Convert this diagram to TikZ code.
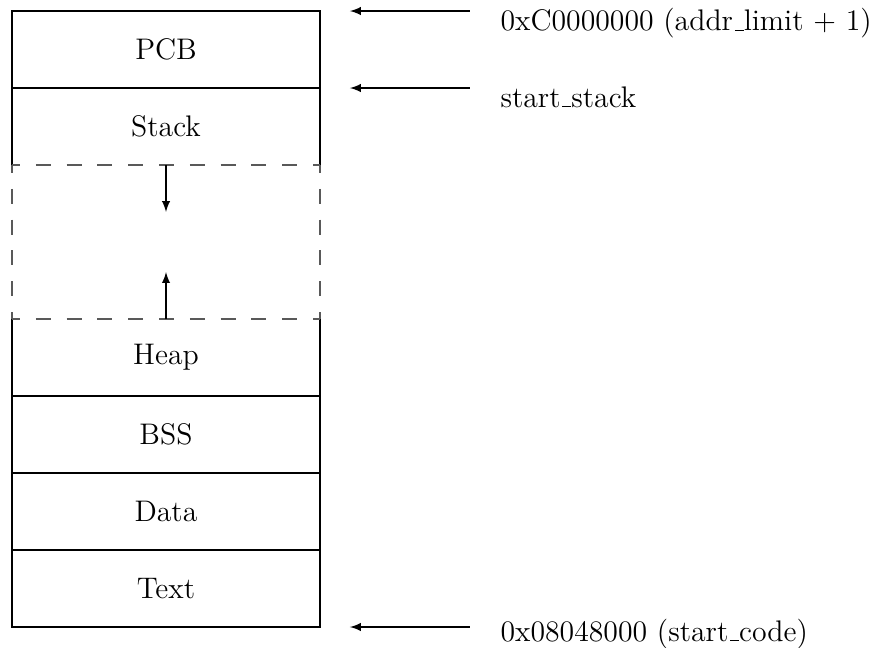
\documentclass[tikz,border=0pt]{standalone}
\usetikzlibrary{arrows,calc}
% low rule underscore, as in classic LaTeX text fonts
\newcommand{\usc}{\leavevmode\kern.06em\vbox{\hrule width.3em}}
\begin{document}
\begin{tikzpicture}[
  line width=0.4pt,
  every node/.style={font=\fontsize{11}{13}\selectfont},
  seg/.style={draw, rectangle, minimum width=4cm, minimum height=1cm, inner sep=0pt, outer sep=0pt},
  openseg/.style={rectangle, minimum width=4cm, minimum height=1cm, inner sep=0pt, outer sep=0pt},
  gapbox/.style={rectangle, minimum width=4cm, minimum height=2cm, inner sep=0pt, outer sep=0pt},
  gapline/.style={draw=black!65, dash pattern=on 0.195cm off 0.205cm, dash phase=0.091cm},
  addr/.style={anchor=base west, inner sep=0pt},
  ptr/.style={-latex}
]
% canvas
\useasboundingbox (0,0) rectangle (11.39,-8.403);

% memory segments, top to bottom
\node[seg]     (pcb)   at (2.156,-0.643) {PCB};
\node[openseg] (stack) at (2.156,-1.643) {Stack};
\node[gapbox]  (free)  at (2.156,-3.143) {};
\node[openseg] (heap)  at (2.156,-4.643) {Heap};
\node[seg]     (bss)   at (2.156,-5.643) {BSS};
\node[seg]     (data)  at (2.156,-6.643) {Data};
\node[seg]     (text)  at (2.156,-7.643) {Text};

% stack and heap are open towards the free area
\draw (stack.south west) -- (stack.north west) -- (stack.north east) -- (stack.south east);
\draw (heap.north west) -- (heap.south west) -- (heap.south east) -- (heap.north east);

% free area between stack and heap
\draw[gapline] (free.north west) -- (free.north east);
\draw[gapline] (free.south west) -- (free.south east);
\draw[gapline] (free.north west) -- (free.south west);
\draw[gapline] (free.north east) -- (free.south east);

% growth of stack and heap into the free area
\coordinate (stackend) at ($(free.north)+(0,-0.61)$);
\coordinate (heapend)  at ($(free.south)+(0,0.61)$);
\draw[ptr] (free.north) -- (stackend);
\draw[ptr] (free.south) -- (heapend);

% address labels
\node[addr] (lbltop)   at (6.494,-0.40) {0xC0000000 (addr\usc limit + 1)};
\node[addr] (lblstack) at (6.494,-1.39) {start\usc stack};
\node[addr] (lblcode)  at (6.494,-8.33) {0x08048000 (start\usc code)};

\coordinate (ftop)   at (6.104,-0.143);
\coordinate (ttop)   at (4.545,-0.143);
\coordinate (fstack) at (6.104,-1.143);
\coordinate (tstack) at (4.545,-1.143);
\coordinate (fcode)  at (6.104,-8.143);
\coordinate (tcode)  at (4.545,-8.143);
\draw[ptr] (ftop) -- (ttop);
\draw[ptr] (fstack) -- (tstack);
\draw[ptr] (fcode) -- (tcode);
\end{tikzpicture}
\end{document}
